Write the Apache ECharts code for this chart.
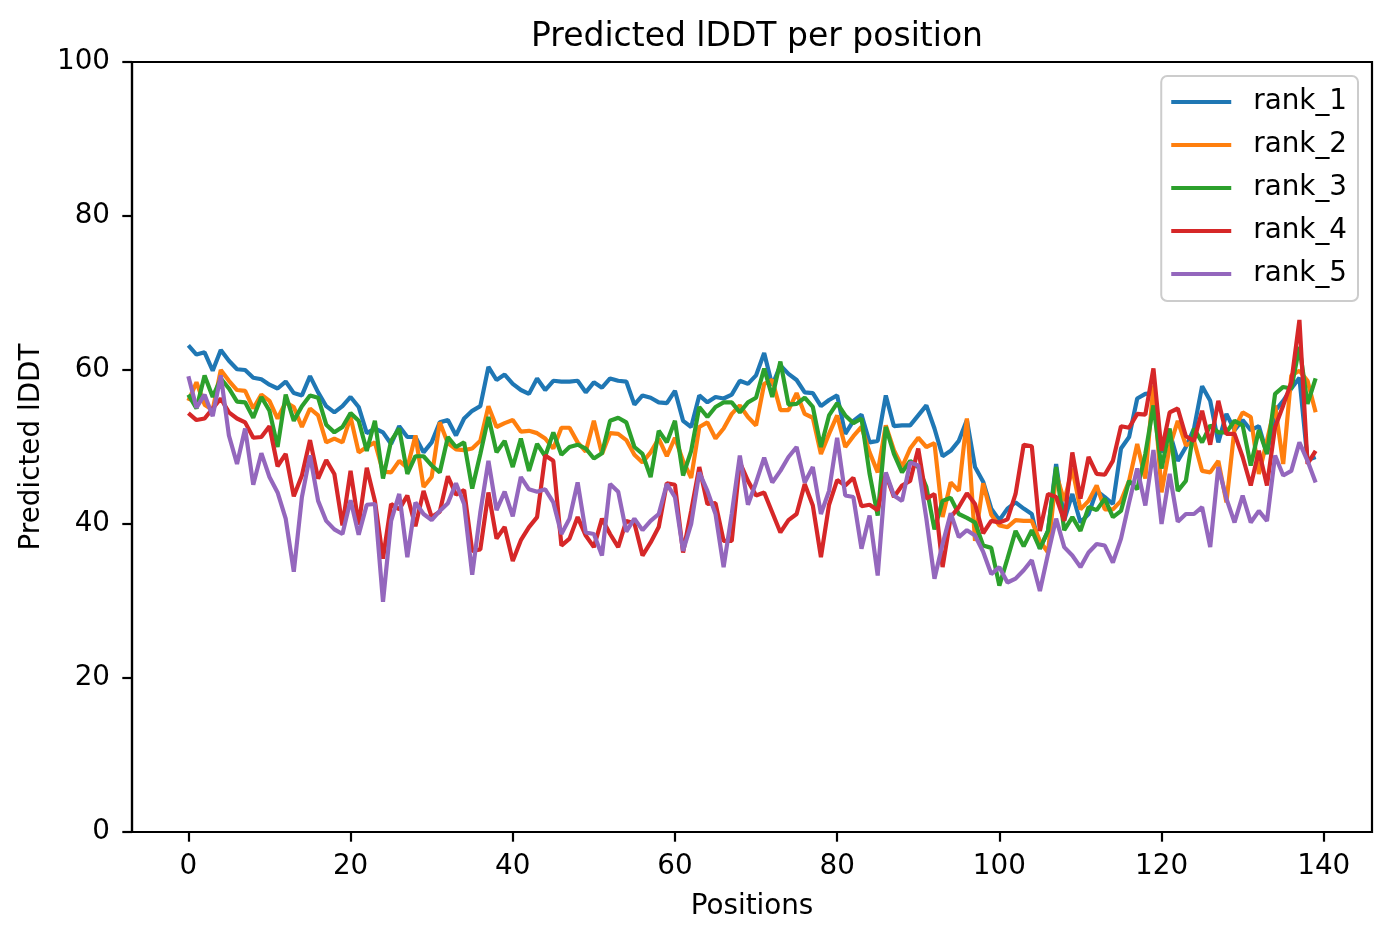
<!DOCTYPE html>
<html>
<head>
<meta charset="utf-8">
<title>Predicted lDDT per position</title>
<script src="https://cdn.jsdelivr.net/npm/echarts@6/dist/echarts.min.js"></script>
<style>
  html, body { margin: 0; padding: 0; background: #fff; }
  #chart { width: 1391px; height: 939px; }
</style>
</head>
<body>
<div id="chart"></div>
<script>
// values, one per position (0..139)
var seriesNames = ['rank_1', 'rank_2', 'rank_3', 'rank_4', 'rank_5'];
var xTicks = [0, 20, 40, 60, 80, 100, 120, 140];

var rank1 = [63.2, 62.0, 62.3, 59.9, 62.6, 61.2, 60.1, 60.0, 59.0, 58.8,
  58.1, 57.6, 58.5, 57.0, 56.7, 59.2, 57.1, 55.3, 54.5, 55.3,
  56.5, 55.2, 51.8, 52.4, 51.9, 50.4, 52.7, 51.3, 51.3, 49.3,
  50.6, 53.2, 53.5, 51.5, 53.7, 54.7, 55.3, 60.4, 58.7, 59.4,
  58.2, 57.4, 56.9, 58.9, 57.4, 58.6, 58.5, 58.5, 58.6, 57.1,
  58.4, 57.7, 58.9, 58.6, 58.5, 55.5, 56.7, 56.4, 55.8, 55.7,
  57.3, 53.4, 52.6, 56.7, 55.8, 56.5, 56.3, 56.8, 58.6, 58.2,
  59.3, 62.2, 58.0, 60.6, 59.5, 58.7, 57.1, 57.0, 55.3, 56.1,
  56.7, 51.7, 53.4, 54.2, 50.6, 50.8, 56.7, 52.7, 52.8, 52.8,
  54.1, 55.4, 52.4, 48.8, 49.5, 50.8, 53.5, 47.4, 45.5, 42.0,
  40.5, 42.0, 42.8, 42.0, 41.3, 36.8, 39.1, 47.8, 40.5, 43.9,
  40.2, 41.3, 44.3, 43.5, 42.6, 49.8, 51.3, 56.3, 56.9, 57.0,
  49.3, 51.9, 48.2, 50.0, 52.4, 57.9, 56.0, 50.6, 54.3, 52.2,
  53.5, 52.2, 52.7, 49.1, 54.7, 56.0, 57.6, 59.0, 48.3, 48.7];

var rank2 = [56.0, 58.4, 55.5, 54.8, 60.0, 58.6, 57.4, 57.3, 55.0, 56.8,
  56.0, 53.7, 55.8, 55.2, 52.6, 55.0, 54.1, 50.6, 51.1, 50.6,
  53.9, 49.3, 50.0, 50.6, 46.8, 46.7, 48.2, 47.3, 51.5, 44.8,
  46.1, 53.2, 50.5, 49.7, 49.6, 49.8, 50.8, 55.3, 52.6, 53.1,
  53.5, 52.0, 52.1, 51.8, 51.1, 49.8, 52.5, 52.5, 50.6, 49.4,
  53.4, 49.1, 51.8, 51.7, 50.9, 49.0, 48.0, 49.3, 51.1, 48.8,
  51.2, 48.2, 46.0, 52.6, 53.2, 51.1, 52.4, 54.3, 55.4, 53.9,
  52.8, 58.2, 58.7, 54.8, 54.8, 57.0, 54.3, 53.8, 49.1, 51.7,
  54.1, 50.0, 51.4, 52.6, 49.3, 46.7, 52.8, 49.6, 47.4, 49.8,
  51.2, 50.0, 50.5, 40.9, 45.4, 44.3, 53.7, 37.8, 45.3, 41.2,
  39.8, 39.6, 40.5, 40.4, 40.4, 37.8, 36.3, 46.5, 43.0, 47.2,
  41.9, 43.0, 45.0, 41.9, 41.9, 43.0, 45.6, 50.4, 45.9, 58.0,
  44.1, 50.0, 53.4, 50.2, 50.8, 46.9, 46.7, 48.2, 42.8, 52.4,
  54.5, 53.9, 46.5, 50.8, 55.4, 47.8, 59.3, 59.9, 58.6, 54.5];

var rank3 = [56.8, 55.0, 59.3, 56.5, 58.9, 57.6, 55.9, 55.8, 53.8, 56.5,
  54.7, 50.0, 56.8, 53.4, 55.3, 56.7, 56.4, 52.9, 51.9, 52.6,
  54.4, 53.4, 49.5, 53.4, 45.9, 50.8, 52.4, 46.5, 48.8, 48.8,
  47.6, 46.7, 51.3, 50.0, 50.6, 44.6, 49.1, 53.9, 49.3, 50.8,
  47.4, 51.1, 46.9, 50.4, 48.8, 51.9, 49.0, 50.0, 50.3, 49.8,
  48.5, 49.2, 53.4, 53.8, 53.2, 50.0, 49.1, 46.1, 52.1, 50.6,
  53.4, 46.3, 49.5, 55.2, 53.9, 55.2, 55.8, 55.8, 54.5, 55.8,
  56.4, 60.2, 56.5, 61.1, 55.5, 55.6, 56.4, 55.2, 50.0, 54.1,
  55.7, 54.1, 53.1, 53.7, 46.5, 41.1, 52.6, 49.1, 46.7, 48.2,
  47.4, 44.8, 39.3, 43.0, 43.4, 41.3, 40.8, 40.2, 37.2, 36.9,
  32.0, 35.5, 39.1, 37.1, 39.2, 36.8, 39.1, 47.4, 39.2, 40.9,
  39.1, 42.2, 41.8, 43.3, 40.9, 41.7, 45.6, 44.5, 49.1, 55.4,
  47.2, 52.4, 44.3, 45.6, 52.4, 50.6, 52.8, 51.9, 51.9, 53.4,
  52.8, 47.6, 52.2, 49.1, 56.9, 57.8, 57.6, 63.0, 55.6, 58.9];

var rank4 = [54.4, 53.5, 53.7, 55.0, 56.3, 54.5, 53.7, 53.2, 51.2, 51.3,
  52.7, 47.5, 49.1, 43.6, 46.3, 50.9, 45.9, 48.3, 46.5, 39.8,
  46.9, 39.9, 47.3, 43.0, 35.5, 42.6, 41.9, 43.7, 39.7, 44.3,
  40.9, 41.6, 46.2, 43.8, 44.4, 36.5, 36.7, 44.1, 38.1, 39.6,
  35.2, 37.9, 39.6, 40.9, 48.9, 48.2, 37.2, 38.1, 40.9, 38.5,
  37.0, 40.7, 38.7, 37.0, 40.4, 40.1, 35.9, 37.6, 39.6, 45.3,
  45.1, 36.3, 41.7, 47.4, 42.6, 42.7, 37.8, 37.8, 48.0, 45.6,
  43.7, 44.1, 41.5, 38.9, 40.5, 41.3, 45.2, 42.4, 35.7, 42.5,
  45.7, 45.0, 46.0, 42.3, 42.5, 41.8, 46.5, 43.5, 45.0, 45.6,
  49.8, 43.3, 43.9, 34.4, 40.9, 42.2, 44.0, 42.6, 38.8, 40.4,
  40.2, 40.6, 43.9, 50.3, 50.1, 39.1, 43.9, 43.5, 40.4, 49.3,
  43.3, 48.7, 46.5, 46.4, 48.2, 52.7, 52.5, 54.3, 54.2, 60.2,
  49.5, 54.5, 55.0, 51.4, 50.8, 54.7, 50.3, 56.0, 51.7, 51.7,
  48.7, 45.0, 49.5, 45.0, 52.6, 55.4, 58.4, 66.5, 47.8, 49.5];

var rank5 = [59.2, 55.1, 56.8, 54.0, 59.3, 51.5, 47.8, 52.4, 45.1, 49.2,
  46.1, 44.1, 40.7, 33.8, 43.5, 48.9, 43.0, 40.4, 39.3, 38.7,
  43.1, 38.6, 42.5, 42.6, 29.9, 40.4, 43.9, 35.7, 42.8, 41.3,
  40.5, 41.7, 42.7, 45.3, 42.6, 33.4, 41.5, 48.2, 41.8, 44.2,
  41.0, 46.1, 44.5, 44.2, 44.5, 42.8, 38.7, 40.7, 45.4, 38.9,
  38.7, 35.9, 45.2, 44.2, 39.0, 40.7, 39.2, 40.4, 41.3, 45.2,
  43.5, 36.5, 40.0, 46.7, 44.3, 41.3, 34.4, 41.3, 48.9, 42.5,
  45.4, 48.6, 45.4, 46.9, 48.7, 50.0, 45.4, 47.4, 41.3, 44.3,
  51.2, 43.7, 43.5, 36.8, 41.1, 33.3, 46.7, 43.7, 43.0, 48.0,
  47.6, 40.7, 32.9, 37.4, 41.4, 38.3, 39.2, 38.5, 36.4, 33.5,
  34.4, 32.4, 32.9, 34.0, 35.3, 31.3, 36.1, 40.7, 37.0, 35.9,
  34.4, 36.3, 37.4, 37.2, 35.0, 38.1, 42.8, 47.2, 42.4, 49.6,
  40.0, 46.5, 40.3, 41.3, 41.3, 42.2, 37.0, 47.4, 43.3, 40.2,
  43.7, 40.2, 41.7, 40.4, 48.9, 46.3, 46.9, 50.6, 48.2, 45.4];

var allRanks = [rank1, rank2, rank3, rank4, rank5];
var colors = ['#1f77b4', '#ff7f0e', '#2ca02c', '#d62728', '#9467bd'];
var fontFamily = 'DejaVu Sans';

var myChart = echarts.init(document.getElementById('chart'), null, { renderer: 'canvas' });

var series = [];
for (var s = 0; s < allRanks.length; s++) {
  series.push({
    name: seriesNames[s],
    type: 'line',
    showSymbol: false,
    symbol: 'none',
    animation: false,
    lineStyle: { width: 4.2, color: colors[s] },
    itemStyle: { color: colors[s] },
    data: allRanks[s].map(function (v, i) { return [i, v]; })
  });
}

var option = {
  backgroundColor: '#ffffff',
  animation: false,
  color: colors,
  textStyle: { fontFamily: fontFamily, color: '#000' },
  title: {
    text: 'Predicted lDDT per position',
    left: 752,
    textAlign: 'center',
    top: 16,
    textStyle: { fontFamily: fontFamily, fontSize: 33, fontWeight: 'normal', color: '#000' }
  },
  legend: {
    orient: 'vertical',
    right: 33,
    top: 76,
    icon: 'rect',
    itemWidth: 60,
    itemHeight: 4,
    itemGap: 15,
    padding: [12, 11, 13, 10],
    backgroundColor: 'rgba(255,255,255,0.8)',
    borderColor: '#cccccc',
    borderWidth: 2,
    borderRadius: 6,
    data: seriesNames,
    textStyle: { fontFamily: fontFamily, fontSize: 27.8, color: '#000', padding: [0, 0, 0, 17] }
  },
  grid: {
    left: 132,
    right: 19,
    top: 62,
    bottom: 107,
    show: true,
    borderColor: '#000',
    borderWidth: 2.2,
    containLabel: false
  },
  xAxis: {
    type: 'value',
    min: -6.95,
    max: 145.95,
    name: 'Positions',
    nameLocation: 'middle',
    nameGap: 61,
    nameTextStyle: { fontFamily: fontFamily, fontSize: 27.8, color: '#000' },
    axisLine: { show: true, onZero: false, lineStyle: { color: '#000', width: 2.2 } },
    axisTick: { show: true, length: 9.7, lineStyle: { color: '#000', width: 2.2 }, customValues: xTicks },
    axisLabel: { fontFamily: fontFamily, fontSize: 27.8, color: '#000', margin: 21, customValues: xTicks },
    splitLine: { show: false }
  },
  yAxis: {
    type: 'value',
    min: 0,
    max: 100,
    interval: 20,
    name: 'Predicted lDDT',
    nameLocation: 'middle',
    nameGap: 85,
    nameTextStyle: { fontFamily: fontFamily, fontSize: 27.8, color: '#000' },
    axisLine: { show: true, onZero: false, lineStyle: { color: '#000', width: 2.2 } },
    axisTick: { show: true, length: 9.7, lineStyle: { color: '#000', width: 2.2 } },
    axisLabel: { fontFamily: fontFamily, fontSize: 27.8, color: '#000', margin: 22, padding: [3, 0, 0, 0] },
    splitLine: { show: false }
  },
  series: series
};

myChart.setOption(option);
</script>
</body>
</html>
